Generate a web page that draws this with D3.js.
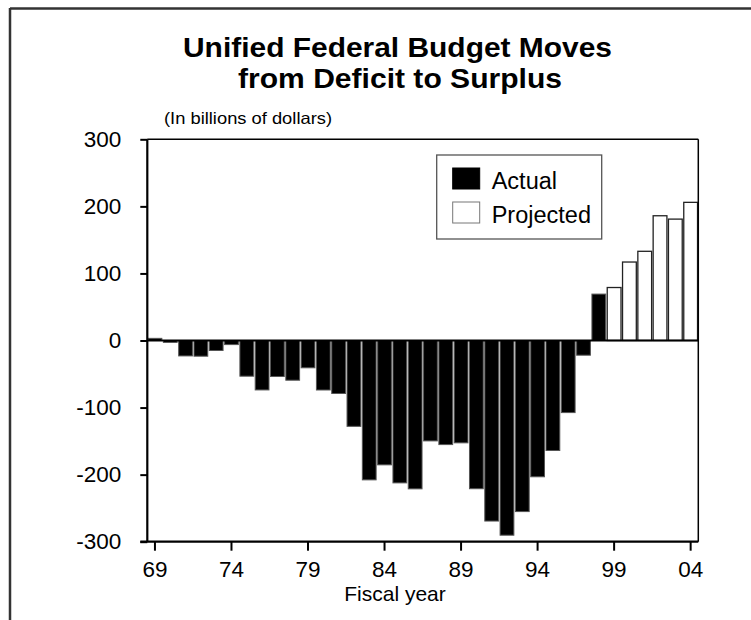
<!DOCTYPE html>
<html>
<head>
<meta charset="utf-8">
<script src="https://cdn.jsdelivr.net/npm/d3@7"></script>
<style>
  body { margin: 0; background: #fff; }
  svg text { font-family: "Liberation Sans", Arial, sans-serif; fill: #000; }
</style>
</head>
<body>
<div id="chart"></div>
<script>
// Unified federal budget, in billions of dollars

var years = [1969, 1970, 1971, 1972, 1973, 1974, 1975, 1976, 1977, 1978, 1979, 1980,
             1981, 1982, 1983, 1984, 1985, 1986, 1987, 1988, 1989, 1990, 1991, 1992,
             1993, 1994, 1995, 1996, 1997, 1998, 1999, 2000, 2001, 2002, 2003, 2004];

var actualYears = [1969, 1970, 1971, 1972, 1973, 1974, 1975, 1976, 1977, 1978, 1979, 1980,
                   1981, 1982, 1983, 1984, 1985, 1986, 1987, 1988, 1989, 1990, 1991, 1992,
                   1993, 1994, 1995, 1996, 1997, 1998];
var actualValues = [3.2, -2.8, -23.0, -23.4, -14.9, -6.1, -53.2, -73.7, -53.7, -59.2, -40.7, -73.8,
                    -79.0, -128.0, -207.8, -185.4, -212.3, -221.2, -149.7, -155.2, -152.6, -221.0, -269.2, -290.3,
                    -255.1, -203.2, -164.0, -107.5, -21.9, 69.2];

var projectedYears = [1999, 2000, 2001, 2002, 2003, 2004];
var projectedValues = [79, 117, 133, 186, 181, 206];

var tickYears = [1969, 1974, 1979, 1984, 1989, 1994, 1999, 2004];
var yTicks = [-300, -200, -100, 0, 100, 200, 300];

var legendItems = ["Actual", "Projected"];

var width = 751;
var height = 620;

var svg = d3.select('#chart')
    .append('svg')
    .attr('width', width)
    .attr('height', height);

var margin = { top: 139.3, left: 147.3, right: 52.7, bottom: 78.3 };
var innerW = width - margin.left - margin.right;
var innerH = height - margin.top - margin.bottom;

// outer frame (only top and left edges are inside the crop)
svg.append('line')
    .attr('x1', 10).attr('x2', width).attr('y1', 8.5).attr('y2', 8.5)
    .attr('stroke', '#333').attr('stroke-width', 2.5);
svg.append('line')
    .attr('x1', 10).attr('x2', 10).attr('y1', 8).attr('y2', height)
    .attr('stroke', '#333').attr('stroke-width', 2.5);

// title
svg.append('text')
    .attr('x', 183).attr('y', 56.5)
    .attr('textLength', 429).attr('lengthAdjust', 'spacingAndGlyphs')
    .style('font-size', '28px').style('font-weight', 'bold')
    .text('Unified Federal Budget Moves');
svg.append('text')
    .attr('x', 238).attr('y', 87.5)
    .attr('textLength', 324).attr('lengthAdjust', 'spacingAndGlyphs')
    .style('font-size', '28px').style('font-weight', 'bold')
    .text('from Deficit to Surplus');

svg.append('text')
    .attr('x', 164).attr('y', 123.5)
    .attr('textLength', 168).attr('lengthAdjust', 'spacingAndGlyphs')
    .style('font-size', '16.5px')
    .text('(In billions of dollars)');

var g = svg.append('g')
    .attr('transform', 'translate(' + margin.left + ',' + margin.top + ')');

var x_scale = d3.scaleBand()
    .domain(years)
    .range([0, innerW])
    .paddingInner(0.1)
    .paddingOuter(0.05);

var y_scale = d3.scaleLinear()
    .domain([-300, 300])
    .range([innerH, 0]);

// bars
var actual = actualYears.map(function(d, i) { return { year: d, value: actualValues[i] }; });
var projected = projectedYears.map(function(d, i) { return { year: d, value: projectedValues[i] }; });

g.selectAll('.bar-actual')
    .data(actual)
    .enter()
    .append('rect')
    .attr('class', 'bar-actual')
    .attr('x', function(d) { return x_scale(d.year); })
    .attr('width', x_scale.bandwidth())
    .attr('y', function(d) { return y_scale(Math.max(0, d.value)); })
    .attr('height', function(d) { return Math.abs(y_scale(d.value) - y_scale(0)); })
    .attr('fill', '#000')
    .attr('stroke', '#555')
    .attr('stroke-width', 1);

g.selectAll('.bar-projected')
    .data(projected)
    .enter()
    .append('rect')
    .attr('class', 'bar-projected')
    .attr('x', function(d) { return x_scale(d.year); })
    .attr('width', x_scale.bandwidth())
    .attr('y', function(d) { return y_scale(Math.max(0, d.value)); })
    .attr('height', function(d) { return Math.abs(y_scale(d.value) - y_scale(0)); })
    .attr('fill', '#fff')
    .attr('stroke', '#222')
    .attr('stroke-width', 1.3);

// zero line
g.append('line')
    .attr('x1', 0).attr('x2', innerW)
    .attr('y1', y_scale(0)).attr('y2', y_scale(0))
    .attr('stroke', '#000').attr('stroke-width', 2);

// frame top / right
g.append('line')
    .attr('x1', 0).attr('x2', innerW).attr('y1', 0).attr('y2', 0)
    .attr('stroke', '#000').attr('stroke-width', 1.5);
g.append('line')
    .attr('x1', innerW).attr('x2', innerW).attr('y1', 0).attr('y2', innerH)
    .attr('stroke', '#000').attr('stroke-width', 1.5);

// y axis
var yAxis = d3.axisLeft(y_scale)
    .tickValues(yTicks)
    .tickSize(7)
    .tickPadding(19)
    .tickFormat(function(d) { return d < 0 ? '-' + Math.abs(d) : d; });

var yg = g.append('g')
    .attr('class', 'axis axis-y')
    .call(yAxis);
yg.select('.domain').attr('stroke', '#000').attr('stroke-width', 2.2)
    .attr('d', 'M0,' + innerH + 'V0');
yg.selectAll('.tick line').attr('stroke', '#000').attr('stroke-width', 2);
yg.selectAll('.tick text')
    .style('font-size', '22.5px')
    .style('font-family', '"Liberation Sans", Arial, sans-serif');

// x axis
var xAxis = d3.axisBottom(x_scale)
    .tickValues(tickYears)
    .tickSize(9)
    .tickPadding(10)
    .tickFormat(function(d) { return String(d).slice(2); });

var xg = g.append('g')
    .attr('class', 'axis axis-x')
    .attr('transform', 'translate(0,' + innerH + ')')
    .call(xAxis);
xg.select('.domain').attr('stroke', '#000').attr('stroke-width', 2.2)
    .attr('d', 'M-7,0H' + innerW);
xg.selectAll('.tick line').attr('stroke', '#000').attr('stroke-width', 2);
xg.selectAll('.tick text')
    .style('font-size', '22.5px')
    .style('font-family', '"Liberation Sans", Arial, sans-serif');

svg.append('text')
    .attr('x', 395).attr('y', 601)
    .style('font-size', '21px')
    .style('text-anchor', 'middle')
    .text('Fiscal year');

// legend
var legend = svg.append('g')
    .attr('transform', 'translate(436.7,155)');

legend.append('rect')
    .attr('width', 165).attr('height', 84)
    .attr('fill', '#fff')
    .attr('stroke', '#555').attr('stroke-width', 1.3);

var item = legend.selectAll('.item')
    .data(legendItems)
    .enter()
    .append('g')
    .attr('class', 'item')
    .attr('transform', function(d, i) { return 'translate(16,' + (13 + i * 34) + ')'; });

item.append('rect')
    .attr('width', 27).attr('height', 21)
    .attr('fill', function(d, i) { return i === 0 ? '#000' : '#fff'; })
    .attr('stroke', function(d, i) { return i === 0 ? '#000' : '#777'; })
    .attr('stroke-width', 1);

item.append('text')
    .attr('x', 39).attr('y', 21)
    .style('font-size', '23.5px')
    .text(function(d) { return d; });
</script>
</body>
</html>
